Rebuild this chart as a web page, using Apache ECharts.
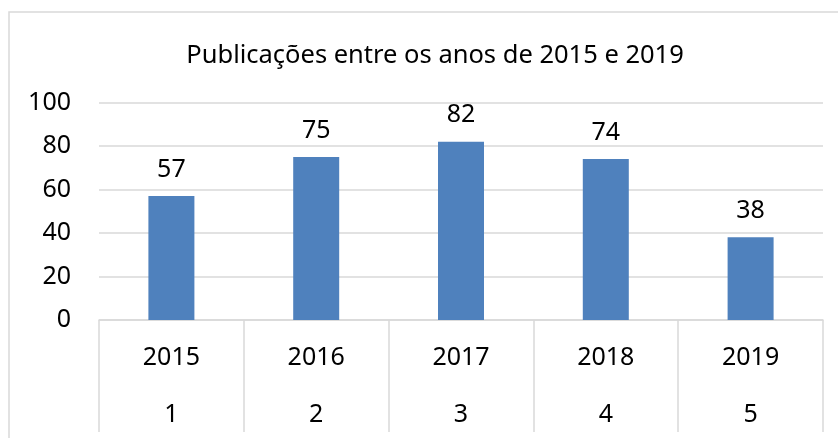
<!DOCTYPE html>
<html>
<head>
<meta charset="utf-8">
<script src="https://cdn.jsdelivr.net/npm/echarts@6/dist/echarts.min.js"></script>
<style>
html, body { margin: 0; padding: 0; background: #fff; }
#chart { width: 838px; height: 438px; }
</style>
</head>
<body>
<div id="chart"></div>
<script>
// dados
var anos = ['2015', '2016', '2017', '2018', '2019'];
var indices = ['1', '2', '3', '4', '5'];
var publicacoes = [57, 75, 82, 74, 38];

var FONT = 'Noto Sans';
var GRAY = '#d9d9d9';

var myChart = echarts.init(document.getElementById('chart'));
var option = {
    backgroundColor: '#fff',
    animation: false,
    title: {
        text: 'Publicações entre os anos de 2015 e 2019',
        left: 430,
        top: 38,
        textAlign: 'center',
        textStyle: { fontFamily: FONT, fontSize: 25.5, fontWeight: 'normal', color: '#000' }
    },
    graphic: [{
        type: 'rect',
        shape: { x: 9, y: 12, width: 900, height: 500 },
        style: { fill: 'none', stroke: GRAY, lineWidth: 1.5 },
        silent: true
    }],
    grid: { left: 99, right: 15, top: 102.5, bottom: 118 },
    xAxis: [{
        type: 'category',
        data: anos,
        position: 'bottom',
        axisLine: { lineStyle: { color: GRAY, width: 1.5 } },
        axisTick: { show: true, interval: 0, length: 112, lineStyle: { color: GRAY, width: 1.5 } },
        axisLabel: {
            interval: 0, margin: 38, verticalAlign: 'middle',
            fontFamily: FONT, fontSize: 25, color: '#000'
        },
        splitLine: { show: false }
    }, {
        type: 'category',
        data: indices,
        position: 'bottom',
        axisLine: { show: false },
        axisTick: { show: false },
        axisLabel: {
            interval: 0, margin: 95, verticalAlign: 'middle',
            fontFamily: FONT, fontSize: 25, color: '#000'
        },
        splitLine: { show: false }
    }],
    yAxis: {
        type: 'value',
        min: 0,
        max: 100,
        interval: 20,
        axisLine: { show: false },
        axisTick: { show: false },
        axisLabel: { margin: 28, fontFamily: FONT, fontSize: 25, color: '#000' },
        splitLine: { lineStyle: { color: GRAY, width: 1.5 } }
    },
    series: [{
        type: 'bar',
        xAxisIndex: 0,
        data: publicacoes,
        barWidth: 46,
        itemStyle: { color: '#4f81bd' },
        label: {
            show: true,
            position: 'top',
            distance: 14,
            fontFamily: FONT,
            fontSize: 25,
            color: '#000'
        }
    }]
};
myChart.setOption(option);
</script>
</body>
</html>
